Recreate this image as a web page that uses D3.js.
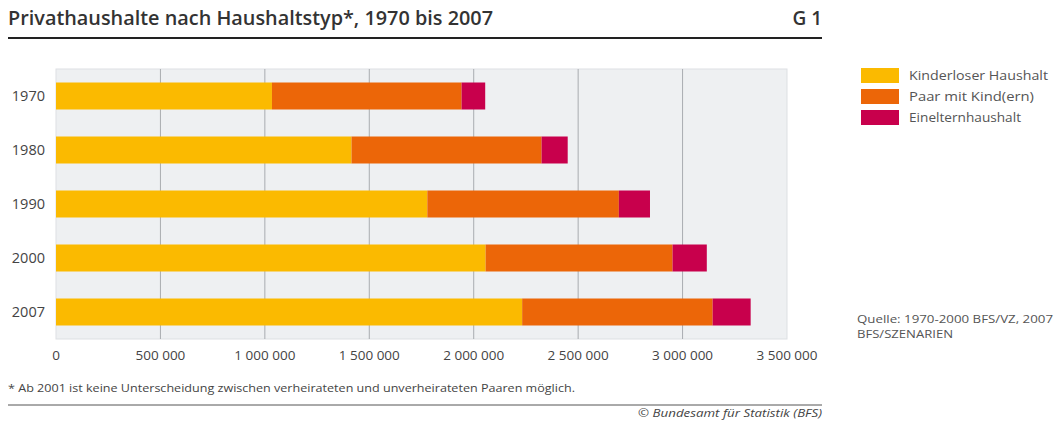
<!DOCTYPE html>
<html>
<head>
<meta charset="utf-8">
<script src="https://cdn.jsdelivr.net/npm/d3@7"></script>
<style>
  body { margin: 0; background: #fff; }
  svg { display: block; font-family: "Open Sans", "DejaVu Sans", sans-serif; }
</style>
</head>
<body>
<div id="chart"></div>
<script>
// Data (households)
const years = ["1970", "1980", "1990", "2000", "2007"];
const kinderlos = [1034000, 1415000, 1778000, 2057000, 2232000];
const paarMitKind = [908000, 910000, 917000, 895000, 912000];
const eineltern = [113000, 125000, 149000, 164000, 182000];
const seriesNames = ["Kinderloser Haushalt", "Paar mit Kind(ern)", "Einelternhaushalt"];
const seriesColors = ["#fbba00", "#ec6608", "#c8004c"];
const xTicks = [0, 500000, 1000000, 1500000, 2000000, 2500000, 3000000, 3500000];

const width = 1061;
const height = 423;
const plot = { left: 56, right: 787, top: 69, bottom: 339 };

const svg = d3.select("#chart")
  .append("svg")
  .attr("width", width)
  .attr("height", height);

// Title + rule
svg.append("text")
  .attr("x", 8).attr("y", 25)
  .attr("font-size", 19).attr("font-weight", 600)
  .attr("fill", "#333")
  .attr("textLength", 485).attr("lengthAdjust", "spacingAndGlyphs")
  .text("Privathaushalte nach Haushaltstyp*, 1970 bis 2007");
svg.append("text")
  .attr("x", 822).attr("y", 25)
  .attr("text-anchor", "end")
  .attr("font-size", 19).attr("font-weight", 600)
  .attr("fill", "#333")
  .text("G 1");
svg.append("line")
  .attr("x1", 8).attr("x2", 822).attr("y1", 38).attr("y2", 38)
  .attr("stroke", "#222").attr("stroke-width", 2);

// Scales
const x = d3.scaleLinear().domain([0, 3500000]).range([plot.left, plot.right]);
const y = d3.scaleBand().domain(years).range([plot.top, plot.bottom])
  .paddingInner(0.5).paddingOuter(0.25);

// Plot background
svg.append("rect")
  .attr("x", plot.left).attr("y", plot.top)
  .attr("width", plot.right - plot.left).attr("height", plot.bottom - plot.top)
  .attr("fill", "#eef0f2")
  .attr("stroke", "#dde0e3");

// Gridlines
svg.append("g")
  .selectAll("line")
  .data(xTicks.slice(1, -1))
  .join("line")
  .attr("x1", d => x(d)).attr("x2", d => x(d))
  .attr("y1", plot.top).attr("y2", plot.bottom)
  .attr("stroke", "#a9acb0").attr("stroke-width", 1);

// Stacked bars
const rows = years.map((yr, i) => ({ year: yr, k: kinderlos[i], p: paarMitKind[i], e: eineltern[i] }));
const stacked = d3.stack().keys(["k", "p", "e"])(rows);

svg.append("g")
  .selectAll("g")
  .data(stacked)
  .join("g")
  .attr("fill", (d, i) => seriesColors[i])
  .selectAll("rect")
  .data(d => d)
  .join("rect")
  .attr("x", d => x(d[0]))
  .attr("y", d => y(d.data.year))
  .attr("width", d => x(d[1]) - x(d[0]))
  .attr("height", y.bandwidth());

// Y labels
svg.append("g")
  .selectAll("text")
  .data(years)
  .join("text")
  .attr("x", 45)
  .attr("y", d => y(d) + y.bandwidth() / 2)
  .attr("dy", "0.35em")
  .attr("text-anchor", "end")
  .attr("font-size", 14.5)
  .attr("fill", "#444")
  .text(d => d);

// X tick labels
svg.append("g")
  .selectAll("text")
  .data(xTicks)
  .join("text")
  .attr("x", d => x(d))
  .attr("y", 355)
  .attr("dy", "0.35em")
  .attr("text-anchor", "middle")
  .attr("font-size", 13.5)
  .attr("fill", "#444")
  .text(d => d3.format(",")(d).replace(/,/g, " "));

// Legend
const legendWidths = [139, 125, 112];
const legend = svg.append("g").attr("transform", "translate(861, 68)");
seriesNames.forEach((name, i) => {
  const item = legend.append("g").attr("transform", `translate(0, ${i * 21})`);
  item.append("rect")
    .attr("width", 38).attr("height", 15)
    .attr("fill", seriesColors[i]);
  item.append("text")
    .attr("x", 48).attr("y", 8)
    .attr("dy", "0.35em")
    .attr("font-size", 12.5)
    .attr("fill", "#555")
    .attr("textLength", legendWidths[i]).attr("lengthAdjust", "spacingAndGlyphs")
    .text(name);
});

// Source
svg.append("text")
  .attr("x", 857).attr("y", 323)
  .attr("font-size", 11).attr("fill", "#555")
  .attr("textLength", 196).attr("lengthAdjust", "spacingAndGlyphs")
  .text("Quelle: 1970-2000 BFS/VZ, 2007");
svg.append("text")
  .attr("x", 857).attr("y", 338)
  .attr("font-size", 11).attr("fill", "#555")
  .attr("textLength", 96).attr("lengthAdjust", "spacingAndGlyphs")
  .text("BFS/SZENARIEN");

// Footnote + bottom rule
svg.append("text")
  .attr("x", 8).attr("y", 392)
  .attr("font-size", 11).attr("fill", "#444")
  .attr("textLength", 567).attr("lengthAdjust", "spacingAndGlyphs")
  .text("* Ab 2001 ist keine Unterscheidung zwischen verheirateten und unverheirateten Paaren möglich.");
svg.append("line")
  .attr("x1", 8).attr("x2", 822).attr("y1", 405).attr("y2", 405)
  .attr("stroke", "#555").attr("stroke-width", 1);
svg.append("text")
  .attr("x", 822).attr("y", 417)
  .attr("text-anchor", "end")
  .attr("font-size", 11.5).attr("font-style", "italic").attr("fill", "#444")
  .attr("textLength", 184).attr("lengthAdjust", "spacingAndGlyphs")
  .text("© Bundesamt für Statistik (BFS)");
</script>
</body>
</html>
